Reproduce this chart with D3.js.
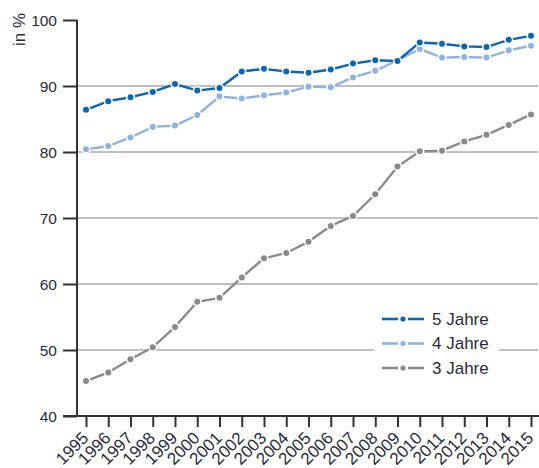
<!DOCTYPE html>
<html><head><meta charset="utf-8">
<script src="https://cdn.jsdelivr.net/npm/d3@7"></script>
<style>body{margin:0;background:#fff;} svg{display:block;font-family:"Liberation Sans",Arial,sans-serif;}</style>
</head><body>
<svg id="chart" width="539" height="468"></svg>
<script>
const years = ["1995","1996","1997","1998","1999","2000","2001","2002","2003","2004","2005","2006","2007","2008","2009","2010","2011","2012","2013","2014","2015"];
const jahre5 = [86.4,87.7,88.3,89.1,90.3,89.3,89.7,92.2,92.6,92.2,92.0,92.5,93.4,93.9,93.8,96.6,96.4,96.0,95.9,97.0,97.6];
const jahre4 = [80.4,80.9,82.2,83.8,84.0,85.6,88.4,88.1,88.6,89.0,89.9,89.8,91.3,92.3,93.9,95.6,94.3,94.4,94.3,95.4,96.1];
const jahre3 = [45.3,46.6,48.6,50.4,53.5,57.3,57.9,61.0,63.9,64.7,66.4,68.8,70.3,73.6,77.8,80.1,80.2,81.6,82.6,84.1,85.7];
const yTicks = [40,50,60,70,80,90,100];
const gridTicks = [50,60,70,80,90];
const seriesNames = ["5 Jahre","4 Jahre","3 Jahre"];
const seriesColors = ["#0b66b2","#8cb3e2","#8a8a8a"];
const yLabel = "in %";

const series = [jahre5, jahre4, jahre3];
const svg = d3.select("#chart");
const x = d3.scalePoint().domain(years).range([86, 531]);
const y = d3.scaleLinear().domain([40,100]).range([416, 20]);
const left = 77, right = 538;
const textColor = "#2a2a3a";

// gridlines
svg.append("g").selectAll("line").data(gridTicks).join("line")
  .attr("x1", left).attr("x2", right)
  .attr("y1", d => y(d)).attr("y2", d => y(d))
  .attr("stroke", "#ababab").attr("stroke-width", 1.5);

// y axis
const yAxis = svg.append("g").attr("transform", `translate(${left},0)`)
  .call(d3.axisLeft(y).tickValues(yTicks).tickSize(14).tickPadding(6).tickFormat(d3.format("d")));
yAxis.select(".domain").attr("stroke", "#333").attr("stroke-width", 2).attr("d", `M0,${y(100)}V${y(40)}`);
yAxis.selectAll(".tick line").attr("stroke", "#333").attr("stroke-width", 2);
yAxis.selectAll(".tick text").attr("font-size", 15.5).attr("fill", textColor)
  .attr("font-family", '"Liberation Sans",Arial,sans-serif').attr("dy", "0.35em");

// x axis
const xAxis = svg.append("g").attr("transform", `translate(0,${y(40)})`)
  .call(d3.axisBottom(x).tickSize(11).tickPadding(3));
xAxis.select(".domain").attr("stroke", "#333").attr("stroke-width", 2).attr("d", `M${left-14},0H${right+1}`);
xAxis.selectAll(".tick line").attr("stroke", "#333").attr("stroke-width", 2);
xAxis.selectAll(".tick text").attr("font-size", 17).attr("fill", textColor)
  .attr("font-family", '"Liberation Sans",Arial,sans-serif')
  .attr("text-anchor", "end").attr("dy", null).attr("y", 0)
  .attr("transform", "translate(3,23) rotate(-45)");

// y label
svg.append("text").attr("transform", "translate(25,13) rotate(-90)")
  .attr("text-anchor", "end").attr("font-size", 17).attr("fill", textColor).text(yLabel);

// series (draw 3 first so 5 on top)
const line = d3.line().x((d,i) => x(years[i])).y(d => y(d));
[2,1,0].forEach(si => {
  const g = svg.append("g");
  g.append("path").datum(series[si]).attr("d", line)
    .attr("fill", "none").attr("stroke", seriesColors[si]).attr("stroke-width", 2.4);
  g.selectAll("circle.h").data(series[si]).join("circle").attr("class","h")
    .attr("cx", (d,i) => x(years[i])).attr("cy", d => y(d)).attr("r", 4.6).attr("fill", "#fff");
  g.selectAll("circle.m").data(series[si]).join("circle").attr("class","m")
    .attr("cx", (d,i) => x(years[i])).attr("cy", d => y(d)).attr("r", 3).attr("fill", seriesColors[si]);
});

// legend
const lg = svg.append("g");
lg.append("rect").attr("x", 374).attr("y", 306).attr("width", 125).attr("height", 76).attr("fill", "#fff");
seriesNames.forEach((name, i) => {
  const yy = 319 + i * 24.5;
  lg.append("line").attr("x1", 382).attr("x2", 398).attr("y1", yy).attr("y2", yy)
    .attr("stroke", seriesColors[i]).attr("stroke-width", 2.6);
  lg.append("line").attr("x1", 408).attr("x2", 424).attr("y1", yy).attr("y2", yy)
    .attr("stroke", seriesColors[i]).attr("stroke-width", 2.6);
  lg.append("circle").attr("cx", 403).attr("cy", yy).attr("r", 2.6).attr("fill", seriesColors[i]);
  lg.append("text").attr("x", 432).attr("y", yy).attr("dy", "0.35em")
    .attr("font-size", 17).attr("fill", textColor).text(name);
});
</script>
</body></html>
